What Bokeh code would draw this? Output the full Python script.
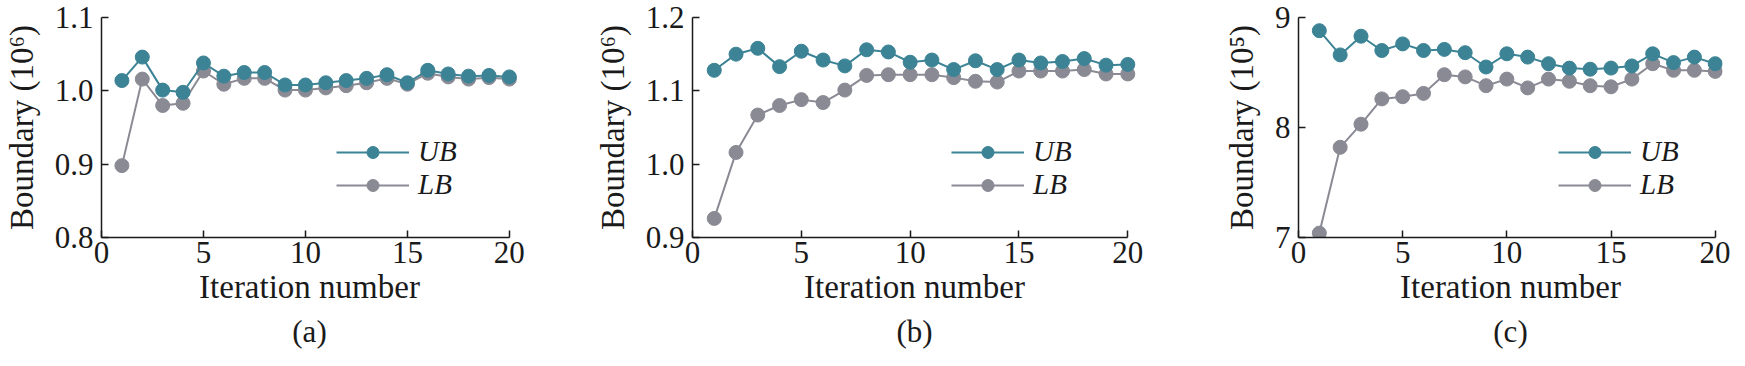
from bokeh.plotting import figure
from bokeh.layouts import row
from bokeh.models import Range1d, FixedTicker, PrintfTickFormatter, Legend, LegendItem, Title
from bokeh.embed import file_html
from bokeh.resources import INLINE

iterations = list(range(1, 21))

ub_a = [1.014, 1.046, 1.001, 0.998, 1.038, 1.020, 1.025, 1.025, 1.008, 1.008,
        1.011, 1.014, 1.017, 1.022, 1.011, 1.028, 1.023, 1.020, 1.021, 1.019]
lb_a = [0.898, 1.016, 0.980, 0.983, 1.027, 1.009, 1.017, 1.017, 1.001, 1.001,
        1.004, 1.007, 1.011, 1.017, 1.009, 1.024, 1.019, 1.016, 1.018, 1.016]

ub_b = [1.128, 1.150, 1.158, 1.133, 1.154, 1.142, 1.134, 1.156, 1.153, 1.139,
        1.142, 1.129, 1.141, 1.129, 1.142, 1.138, 1.140, 1.144, 1.135, 1.136]
lb_b = [0.926, 1.016, 1.067, 1.080, 1.088, 1.084, 1.101, 1.121, 1.122, 1.122,
        1.122, 1.118, 1.113, 1.112, 1.127, 1.127, 1.127, 1.129, 1.123, 1.123]

ub_c = [8.88, 8.66, 8.83, 8.70, 8.76, 8.70, 8.71, 8.68, 8.55, 8.67,
        8.64, 8.58, 8.54, 8.53, 8.54, 8.56, 8.67, 8.59, 8.64, 8.58]
lb_c = [7.04, 7.82, 8.03, 8.26, 8.28, 8.31, 8.48, 8.46, 8.38, 8.44,
        8.36, 8.44, 8.42, 8.38, 8.37, 8.44, 8.58, 8.52, 8.52, 8.51]

x_ticks = [0, 5, 10, 15, 20]
y_ticks_a = [0.8, 0.9, 1.0, 1.1]
y_ticks_b = [0.9, 1.0, 1.1, 1.2]
y_ticks_c = [7, 8, 9]

series_labels = ["UB", "LB"]
panel_tags = ["(a)", "(b)", "(c)"]
y_labels = ["Boundary (10\u2076)", "Boundary (10\u2076)", "Boundary (10\u2075)"]

UB_COLOR = "#3c8395"
LB_COLOR = "#8a8a95"
TEXT = "#1a1a1a"
FONT = "Liberation Serif"


def make_panel(ub, lb, y_ticks, fmt, ylabel, tag, left, frame_w, right, legend_x, x_end):
    p = figure(frame_width=frame_w, frame_height=220,
               x_range=Range1d(0, x_end), y_range=Range1d(y_ticks[0], y_ticks[-1]),
               output_backend="svg", toolbar_location=None,
               min_border_left=left, min_border_right=right,
               min_border_top=17, min_border_bottom=100)
    p.outline_line_color = None
    p.xgrid.visible = False
    p.ygrid.visible = False
    p.background_fill_color = "white"
    p.border_fill_color = "white"

    l2 = p.line(iterations, lb, line_color=LB_COLOR, line_width=2)
    s2 = p.scatter(iterations, lb, size=14, fill_color=LB_COLOR, line_color=LB_COLOR)
    l1 = p.line(iterations, ub, line_color=UB_COLOR, line_width=2)
    s1 = p.scatter(iterations, ub, size=14, fill_color=UB_COLOR, line_color=UB_COLOR)

    for ax in (p.xaxis[0], p.yaxis[0]):
        ax.axis_line_width = 1.5
        ax.axis_line_color = TEXT
        ax.major_tick_line_color = TEXT
        ax.major_tick_line_width = 1.5
        ax.major_tick_in = 7
        ax.major_tick_out = 0
        ax.minor_tick_line_color = None
        ax.major_label_text_font = FONT
        ax.major_label_text_font_size = "31px"
        ax.major_label_text_color = TEXT
        ax.axis_label_text_font = FONT
        ax.axis_label_text_font_size = "33px"
        ax.axis_label_text_font_style = "normal"
        ax.axis_label_text_color = TEXT

    xa = p.xaxis[0]
    xa.ticker = FixedTicker(ticks=x_ticks)
    xa.bounds = (0, 20)
    xa.axis_label = "Iteration number"
    xa.major_label_standoff = 4
    xa.axis_label_standoff = 3

    ya = p.yaxis[0]
    ya.ticker = FixedTicker(ticks=y_ticks)
    ya.formatter = PrintfTickFormatter(format=fmt)
    ya.axis_label = ylabel
    ya.major_label_standoff = 8
    ya.axis_label_standoff = 12

    legend = Legend(items=[LegendItem(label=series_labels[0], renderers=[l1, s1]),
                           LegendItem(label=series_labels[1], renderers=[l2, s2])],
                    location=(legend_x, 36), glyph_width=73, glyph_height=30,
                    label_height=30, label_standoff=9, spacing=0, padding=0, margin=0,
                    border_line_color=None, background_fill_alpha=0,
                    label_text_font=FONT, label_text_font_style="italic",
                    label_text_font_size="29px", label_text_color=TEXT)
    p.add_layout(legend)

    t = Title(text=tag, align="center", text_font=FONT, text_font_size="31px",
              text_font_style="normal", text_color=TEXT, standoff=8)
    p.add_layout(t, "below")
    return p


pa = make_panel(ub_a, lb_a, y_ticks_a, "%.1f", y_labels[0], panel_tags[0], 100, 416, 66, 235, 20.4)
pb = make_panel(ub_b, lb_b, y_ticks_b, "%.1f", y_labels[1], panel_tags[1], 109, 444, 42, 259, 20.4)
pc = make_panel(ub_c, lb_c, y_ticks_c, "%d", y_labels[2], panel_tags[2], 120, 424, 8, 260, 20.35)

layout = row(pa, pb, pc)
open("out.html", "w").write(file_html(layout, INLINE))
